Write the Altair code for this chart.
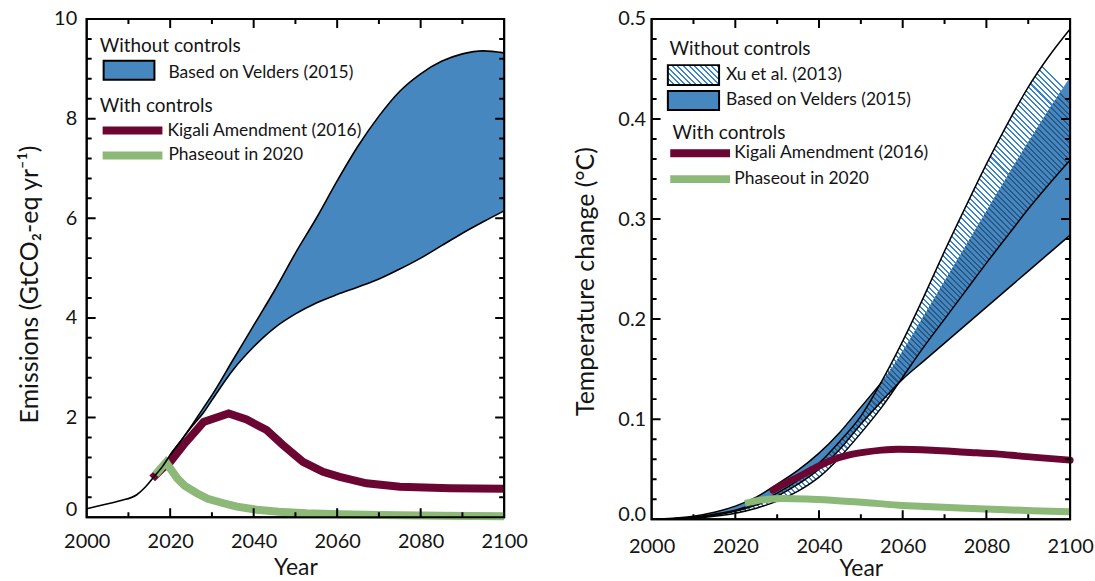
import altair as alt
import pandas as pd

FONT = "Lato"
INK = "#141414"
BLUE = "#4787bf"
PURPLE = "#6b0632"
GREEN = "#8cb878"
HATCH_LIGHT = "#3a84cc"
HATCH_DARK = "#285886"

# ---------------- HFC emissions (GtCO2-eq per year) ----------------
hist_years = [2000, 2004, 2008, 2012, 2014, 2016, 2018]
hist_emis = [0.17, 0.25, 0.33, 0.45, 0.60, 0.80, 1.00]

velders_years = [2020, 2023, 2025, 2028, 2030, 2035, 2040, 2045, 2050, 2055,
                 2060, 2065, 2070, 2075, 2080, 2085, 2090, 2095, 2100]
velders_emis_high = [1.25, 1.58, 1.82, 2.20, 2.45, 3.15, 3.85, 4.55, 5.30, 6.00,
                     6.75, 7.45, 8.05, 8.55, 8.90, 9.15, 9.30, 9.36, 9.32]
velders_emis_low = [1.25, 1.58, 1.80, 2.10, 2.35, 2.95, 3.42, 3.80, 4.08, 4.30,
                    4.47, 4.62, 4.78, 4.98, 5.20, 5.45, 5.70, 5.93, 6.15]

kigali_emis_years = [2015.7, 2018, 2020, 2023.2, 2028, 2034, 2038.3, 2043.1, 2047,
                     2051.8, 2056.6, 2060.6, 2067, 2075, 2087, 2100]
kigali_emis = [0.78, 0.97, 1.11, 1.45, 1.91, 2.08, 1.96, 1.75, 1.45,
               1.11, 0.91, 0.81, 0.68, 0.61, 0.58, 0.57]

phaseout_emis_years = [2016.5, 2019, 2021.7, 2023.5, 2026.4, 2029, 2032.8, 2036,
                       2040.7, 2046, 2052.6, 2060.6, 2070, 2085, 2100]
phaseout_emis = [0.86, 1.10, 0.78, 0.63, 0.48, 0.37, 0.28, 0.21,
                 0.15, 0.11, 0.08, 0.06, 0.045, 0.03, 0.02]

# ---------------- Temperature change (deg C) ----------------
temp_years = [2000, 2005, 2010, 2015, 2020, 2025, 2030, 2035, 2040, 2045, 2050,
              2055, 2060, 2065, 2070, 2075, 2080, 2085, 2090, 2095, 2100]
xu_high = [0.0, 0.0005, 0.002, 0.005, 0.009, 0.016, 0.026, 0.039, 0.056, 0.078, 0.103,
           0.138, 0.178, 0.222, 0.268, 0.312, 0.355, 0.395, 0.432, 0.463, 0.49]
xu_low = [0.0, 0.0003, 0.001, 0.003, 0.006, 0.011, 0.018, 0.028, 0.042, 0.062, 0.086,
          0.112, 0.142, 0.172, 0.200, 0.228, 0.256, 0.283, 0.310, 0.335, 0.359]
velders_temp_high = [0.0, 0.001, 0.003, 0.007, 0.013, 0.022, 0.035, 0.049, 0.066, 0.087, 0.112,
                     0.137, 0.168, 0.203, 0.238, 0.273, 0.308, 0.343, 0.377, 0.410, 0.442]
velders_temp_low = [0.0, 0.0005, 0.0015, 0.004, 0.008, 0.014, 0.023, 0.035, 0.050, 0.070, 0.095,
                    0.118, 0.140, 0.158, 0.176, 0.194, 0.212, 0.230, 0.248, 0.266, 0.284]

kigali_temp_years = [2029, 2032, 2035, 2039, 2043, 2047, 2051, 2055, 2059, 2067, 2075, 2083, 2091, 2100]
kigali_temp = [0.029, 0.036, 0.042, 0.051, 0.059, 0.064, 0.067, 0.069, 0.070,
               0.069, 0.067, 0.065, 0.062, 0.059]

phaseout_temp_years = [2022.3, 2026, 2031, 2037, 2043, 2051, 2059, 2067, 2075, 2083, 2091, 2100]
phaseout_temp = [0.0157, 0.019, 0.0207, 0.0202, 0.019, 0.0167, 0.014, 0.0125, 0.011,
                 0.0097, 0.0085, 0.0073]

# ---------------- axis ticks ----------------
year_major = [2000, 2020, 2040, 2060, 2080, 2100]
year_minor = [2010, 2030, 2050, 2070, 2090]
emis_major = [0, 2, 4, 6, 8, 10]
emis_minor = [0.4, 0.8, 1.2, 1.6, 2.4, 2.8, 3.2, 3.6, 4.4, 4.8, 5.2, 5.6,
              6.4, 6.8, 7.2, 7.6, 8.4, 8.8, 9.2, 9.6]
temp_major = [0.0, 0.1, 0.2, 0.3, 0.4, 0.5]
temp_minor = [0.02, 0.04, 0.06, 0.08, 0.12, 0.14, 0.16, 0.18, 0.22, 0.24, 0.26, 0.28,
              0.32, 0.34, 0.36, 0.38, 0.42, 0.44, 0.46, 0.48]

YEAR_DOMAIN = [2000, 2100]
EMIS_DOMAIN = [0, 10]
TEMP_DOMAIN = [0, 0.5]
LW, LH = 419, 500
RW, RH = 420, 502
MAJOR_LEN, MINOR_LEN = 9, 5
CLEAR = "rgba(255,255,255,0)"


def hatch_fill(color, w_px, h_px, period=4.0, frac=0.36):
    """Backslash hatching as a striped linear gradient over the mark's bounding box."""
    x2 = w_px / h_px
    span = (w_px * x2 + h_px) / 2 ** 0.5
    n = max(1, round(span / period))
    stops = []
    for i in range(n):
        a, b, c = i / n, (i + frac) / n, (i + 1) / n
        stops += [
            {"offset": round(a, 6), "color": color},
            {"offset": round(b, 6), "color": color},
            {"offset": round(b, 6), "color": CLEAR},
            {"offset": round(c, 6), "color": CLEAR},
        ]
    return {"gradient": "linear", "x1": 0, "y1": 1, "x2": x2, "y2": 0, "stops": stops}


def make_x(label_pad, title_y):
    axis = alt.Axis(
        values=year_major, format="d", ticks=False, tickSize=0, domain=False, grid=False,
        labelFontSize=20, labelPadding=label_pad, labelFlush=False, labelOverlap=False,
        labelColor=INK, title="Year", titleFontSize=23, titleFontWeight="normal",
        titleColor=INK, titleBaseline="alphabetic", titleY=title_y,
    )

    def enc(field="year:Q"):
        return alt.X(field, scale=alt.Scale(domain=YEAR_DOMAIN, nice=False, zero=False), axis=axis)
    return enc


def make_y(domain, values, fmt, title, label_pad, zero_shift, title_x, title_y):
    axis = alt.Axis(
        values=values, format=fmt, ticks=False, tickSize=0, domain=False, grid=False,
        labelFontSize=20, labelPadding=label_pad, labelColor=INK, labelOverlap=False,
        labelOffset={"condition": {"test": "datum.value === 0", "value": zero_shift}, "value": 0},
        title=title, titleFontSize=25, titleFontWeight="normal", titleColor=INK,
        titleBaseline="alphabetic", titleX=title_x, titleY=title_y,
    )

    def enc(field="value:Q"):
        return alt.Y(field, scale=alt.Scale(domain=domain, nice=False, zero=False), axis=axis)
    return enc


def frame_path(y_dom, W, H, y_major, y_minor):
    """One closed path that runs round the frame and steps inward at every tick."""
    x0, x1 = YEAR_DOMAIN
    y0, y1 = y_dom
    dx = (x1 - x0) / W
    dy = (y1 - y0) / H
    xt = [v for v in sorted(year_major + year_minor) if x0 < v < x1]
    yt = [v for v in sorted(y_major + y_minor) if y0 < v < y1]

    def xlen(v):
        return MAJOR_LEN if v in year_major else MINOR_LEN

    def ylen(v):
        return MAJOR_LEN if any(abs(v - m) < 1e-9 for m in y_major) else MINOR_LEN

    pts = [(x0, y0)]
    for v in xt:                      # bottom edge, left to right
        pts += [(v, y0), (v, y0 + xlen(v) * dy), (v, y0)]
    pts.append((x1, y0))
    for v in yt:                      # right edge, bottom to top
        pts += [(x1, v), (x1 - ylen(v) * dx, v), (x1, v)]
    pts.append((x1, y1))
    for v in reversed(xt):            # top edge, right to left
        pts += [(v, y1), (v, y1 - xlen(v) * dy), (v, y1)]
    pts.append((x0, y1))
    for v in reversed(yt):            # left edge, top to bottom
        pts += [(x0, v), (x0 + ylen(v) * dx, v), (x0, v)]
    pts.append((x0, y0))
    return pd.DataFrame({"year": [p[0] for p in pts], "value": [p[1] for p in pts],
                         "i": list(range(len(pts)))})


one = pd.DataFrame({"k": [0]})


def text(s, x, y, size):
    return alt.Chart(one).mark_text(
        text=s, align="left", baseline="middle", fontSize=size, color=INK, font=FONT
    ).encode(x=alt.value(x), y=alt.value(y))


def swatch(fill, x0, x1, y0, y1):
    return alt.Chart(one).mark_rect(fill=fill, stroke="black", strokeWidth=2).encode(
        x=alt.value(x0), x2=alt.value(x1), y=alt.value(y0), y2=alt.value(y1))


def stroke_key(color, x0, x1, y):
    return alt.Chart(one).mark_rule(color=color, strokeWidth=8, strokeCap="butt").encode(
        x=alt.value(x0), x2=alt.value(x1), y=alt.value(y))


def frame_layer(df, xf, yf):
    return alt.Chart(df).mark_line(
        color="black", strokeWidth=2, strokeJoin="miter", strokeCap="square", clip=False
    ).encode(x=xf(), y=yf(), order="i:Q")


# ================= left panel: emissions =================
xl = make_x(14, 58)
yl = make_y(EMIS_DOMAIN, emis_major, "d", "Emissions (GtCO₂-eq yr⁻¹)", 10, -8, -49, 266)

velders_emis = pd.DataFrame({"year": velders_years, "low": velders_emis_low, "high": velders_emis_high})
outline_emis = pd.concat([
    pd.DataFrame({"year": hist_years + velders_years, "value": hist_emis + velders_emis_high, "s": "high"}),
    pd.DataFrame({"year": velders_years, "value": velders_emis_low, "s": "low"}),
], ignore_index=True)
kig_e = pd.DataFrame({"year": kigali_emis_years, "value": kigali_emis})
pho_e = pd.DataFrame({"year": phaseout_emis_years, "value": phaseout_emis})
frame_e = frame_path(EMIS_DOMAIN, LW, LH, emis_major, emis_minor)

left = alt.layer(
    alt.Chart(velders_emis).mark_area(color=BLUE, interpolate="monotone").encode(
        x=xl(), y=yl("low:Q"), y2="high:Q"),
    alt.Chart(kig_e).mark_line(color=PURPLE, strokeWidth=8, strokeCap="butt", strokeJoin="miter").encode(
        x=xl(), y=yl()),
    alt.Chart(pho_e).mark_line(color=GREEN, strokeWidth=8, strokeCap="butt", strokeJoin="miter").encode(
        x=xl(), y=yl()),
    alt.Chart(outline_emis).mark_line(color="black", strokeWidth=1.6, interpolate="monotone").encode(
        x=xl(), y=yl(), detail="s:N"),
    frame_layer(frame_e, xl, yl),
    text("Without controls", 13, 27, 19),
    swatch(BLUE, 17, 68, 42, 61),
    text("Based on Velders (2015)", 82, 54, 17.5),
    text("With controls", 13, 87, 19),
    stroke_key(PURPLE, 16, 76, 112),
    text("Kigali Amendment (2016)", 81, 112, 17.5),
    stroke_key(GREEN, 16, 76, 137),
    text("Phaseout in 2020", 82, 137, 17.5),
).properties(width=LW, height=LH)

# ================= right panel: temperature =================
xr = make_x(17, 57)
yr = make_y(TEMP_DOMAIN, temp_major, ".1f", "Temperature change (°C)", 6, -5, -58, 263)

ovl_lo = [max(a, b) for a, b in zip(xu_low, velders_temp_low)]
ovl_hi = [max(l, min(a, b)) for l, a, b in zip(ovl_lo, xu_high, velders_temp_high)]

xu_band = pd.DataFrame({"year": temp_years, "low": xu_low, "high": xu_high})
vel_band = pd.DataFrame({"year": temp_years, "low": velders_temp_low, "high": velders_temp_high})
ovl_band = pd.DataFrame({"year": temp_years, "low": ovl_lo, "high": ovl_hi})

outline_temp = pd.concat([
    pd.DataFrame({"year": temp_years, "value": xu_high, "s": "xu_high"}),
    pd.DataFrame({"year": temp_years, "value": xu_low, "s": "xu_low"}),
    pd.DataFrame({"year": temp_years, "value": velders_temp_low, "s": "v_low"}),
    pd.DataFrame({"year": [y for y in temp_years if y <= 2055],
                  "value": [v for y, v in zip(temp_years, velders_temp_high) if y <= 2055],
                  "s": "v_high"}),
], ignore_index=True)
kig_t = pd.DataFrame({"year": kigali_temp_years, "value": kigali_temp})
pho_t = pd.DataFrame({"year": phaseout_temp_years, "value": phaseout_temp})
frame_t = frame_path(TEMP_DOMAIN, RW, RH, temp_major, temp_minor)

px_per_deg = RH / (TEMP_DOMAIN[1] - TEMP_DOMAIN[0])
right = alt.layer(
    alt.Chart(xu_band).mark_area(
        fill=hatch_fill(HATCH_LIGHT, RW, max(xu_high) * px_per_deg), interpolate="monotone"
    ).encode(x=xr(), y=yr("low:Q"), y2="high:Q"),
    alt.Chart(vel_band).mark_area(color=BLUE, interpolate="monotone").encode(
        x=xr(), y=yr("low:Q"), y2="high:Q"),
    alt.Chart(ovl_band).mark_area(
        fill=hatch_fill(HATCH_DARK, RW, max(ovl_hi) * px_per_deg), interpolate="monotone"
    ).encode(x=xr(), y=yr("low:Q"), y2="high:Q"),
    alt.Chart(outline_temp).mark_line(color="black", strokeWidth=1.5, interpolate="monotone").encode(
        x=xr(), y=yr(), detail="s:N"),
    alt.Chart(kig_t).mark_line(color=PURPLE, strokeWidth=7, strokeCap="round", interpolate="monotone").encode(
        x=xr(), y=yr()),
    alt.Chart(pho_t).mark_line(color=GREEN, strokeWidth=7, strokeCap="butt", interpolate="monotone").encode(
        x=xr(), y=yr()),
    frame_layer(frame_t, xr, yr),
    text("Without controls", 18, 30, 19),
    swatch(hatch_fill(HATCH_LIGHT, 51.4, 20), 16.3, 67.7, 46.3, 66.3),
    text("Xu et al. (2013)", 74.7, 56.3, 17.5),
    swatch(BLUE, 16.3, 67.7, 72.3, 91.3),
    text("Based on Velders (2015)", 74.7, 81.7, 17.5),
    text("With controls", 21, 114.7, 19),
    stroke_key(PURPLE, 18.7, 78.7, 134.7),
    text("Kigali Amendment (2016)", 83, 135, 17.5),
    stroke_key(GREEN, 18.7, 78.7, 160.7),
    text("Phaseout in 2020", 83, 161, 17.5),
).properties(width=RW, height=RH)

chart = (
    alt.hconcat(left, right, spacing=148, bounds="flush")
    .properties(padding={"left": 17, "top": 7, "right": 0, "bottom": 0}, background="white")
    .configure(font=FONT)
    .configure_view(stroke="black", strokeWidth=2)
)

chart.save("out.html", embed_options={"renderer": "svg", "actions": False})
